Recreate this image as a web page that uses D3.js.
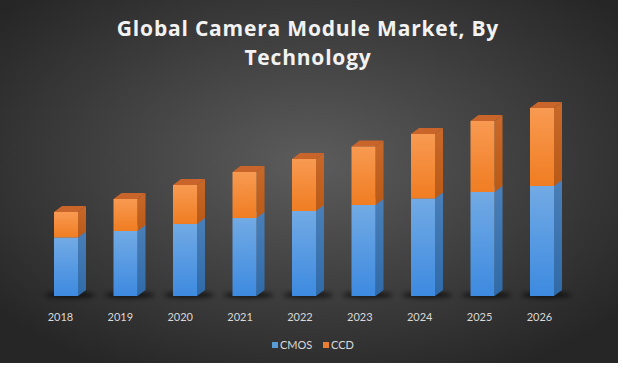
<!DOCTYPE html>
<html lang="en">
<head>
<meta charset="UTF-8">
<title>Global Camera Module Market, By Technology</title>
<script src="https://cdnjs.cloudflare.com/ajax/libs/d3/7.8.5/d3.min.js"></script>
<style>
    html, body { margin: 0; padding: 0; background: #fff; }
    svg { display: block; }
</style>
</head>
<body>
<svg id="chart" width="623" height="373"></svg>
<script>
    // data (arbitrary units, no value axis shown)
    const years = ["2018", "2019", "2020", "2021", "2022", "2023", "2024", "2025", "2026"];
    const cmosValues = [58.5, 65, 72, 78, 85, 91, 97.5, 104, 110];
    const ccdValues = [25.5, 32, 39, 46, 52, 58.5, 64.5, 71, 78];
    const seriesNames = ["CMOS", "CCD"];

    const W = 618, H = 363;
    const depthX = 8, depthY = 6, barWidth = 24;

    const svg = d3.select("#chart");
    const defs = svg.append("defs");

    const bg = defs.append("radialGradient").attr("id", "bgGrad")
        .attr("cx", "50%").attr("cy", "45%").attr("r", "65%");
    bg.append("stop").attr("offset", "0%").attr("stop-color", "#5c5c5c");
    bg.append("stop").attr("offset", "100%").attr("stop-color", "#262626");

    function vGrad(id, top, bottom) {
        const g = defs.append("linearGradient").attr("id", id)
            .attr("x1", 0).attr("y1", 0).attr("x2", 0).attr("y2", 1);
        g.append("stop").attr("offset", "0%").attr("stop-color", top);
        g.append("stop").attr("offset", "100%").attr("stop-color", bottom);
    }
    vGrad("cmosFront", "#72aae4", "#3d8ae0");
    vGrad("cmosSide", "#4a7fb8", "#2f6aa8");
    vGrad("ccdFront", "#f89a52", "#f07d22");
    vGrad("ccdSide", "#c8682a", "#b95a17");

    defs.append("filter").attr("id", "blur")
        .attr("x", "-50%").attr("y", "-200%").attr("width", "200%").attr("height", "500%")
        .append("feGaussianBlur").attr("stdDeviation", 2.5);

    svg.append("rect").attr("width", W).attr("height", H).attr("fill", "url(#bgGrad)");

    // title
    const title = svg.append("text")
        .attr("text-anchor", "middle")
        .attr("fill", "#f2f2f2")
        .style("font-family", "'Open Sans', Lato, sans-serif")
        .style("font-weight", "bold")
        .style("font-size", "21px")
        .style("letter-spacing", "0.8px");
    title.append("tspan").attr("x", 308).attr("y", 36).text("Global Camera Module Market, By");
    title.append("tspan").attr("x", 308).attr("y", 65).text("Technology");

    const x = d3.scalePoint().domain(years).range([66, 542]);
    const xLabel = d3.scalePoint().domain(years).range([60, 539]);
    const y = d3.scaleLinear().domain([0, 200]).range([296, 96]);

    const stacked = d3.stack().keys(seriesNames)(
        years.map((yr, i) => ({ year: yr, CMOS: cmosValues[i], CCD: ccdValues[i] }))
    );

    // floor shadows
    svg.append("g").selectAll("ellipse")
        .data(years).join("ellipse")
        .attr("cx", d => x(d) + 4)
        .attr("cy", 295)
        .attr("rx", 25)
        .attr("ry", 2.5)
        .attr("fill", "#000")
        .attr("opacity", 0.8)
        .attr("filter", "url(#blur)");

    const fills = {
        CMOS: { front: "url(#cmosFront)", side: "url(#cmosSide)", top: "#5f93cc" },
        CCD: { front: "url(#ccdFront)", side: "url(#ccdSide)", top: "#c9652a" }
    };

    stacked.forEach(layer => {
        const key = layer.key;
        const g = svg.append("g").attr("class", "series-" + key);
        layer.forEach((d, i) => {
            const x0 = x(years[i]) - barWidth / 2;
            const x1 = x0 + barWidth;
            const yTop = y(d[1]);
            const yBot = y(d[0]);
            // side face
            g.append("path")
                .attr("d", `M${x1},${yTop}L${x1 + depthX},${yTop - depthY}L${x1 + depthX},${yBot - depthY}L${x1},${yBot}Z`)
                .attr("fill", fills[key].side);
            // top face
            g.append("path")
                .attr("d", `M${x0},${yTop}L${x0 + depthX},${yTop - depthY}L${x1 + depthX},${yTop - depthY}L${x1},${yTop}Z`)
                .attr("fill", fills[key].top);
            // front face
            g.append("rect")
                .attr("x", x0).attr("y", yTop)
                .attr("width", barWidth).attr("height", yBot - yTop)
                .attr("fill", fills[key].front);
        });
    });

    // category axis
    const axis = svg.append("g")
        .attr("transform", "translate(0,305)")
        .call(d3.axisBottom(xLabel).tickSize(0).tickPadding(8));
    axis.select(".domain").remove();
    axis.selectAll("text")
        .attr("fill", "#d9d9d9")
        .style("font-family", "Lato, 'Open Sans', sans-serif")
        .style("font-size", "11px");

    // legend
    const legendColors = { CMOS: "#5b9bd5", CCD: "#ed7d31" };
    const legendX = d3.scaleOrdinal().domain(seriesNames).range([272, 323]);
    const legend = svg.append("g").selectAll("g")
        .data(seriesNames).join("g")
        .attr("transform", d => `translate(${legendX(d)},342)`);
    legend.append("rect").attr("width", 6).attr("height", 6).attr("fill", d => legendColors[d]);
    legend.append("text")
        .attr("x", 8).attr("y", 7)
        .attr("fill", "#d9d9d9")
        .style("font-family", "Lato, 'Open Sans', sans-serif")
        .style("font-size", "11px")
        .text(d => d);
</script>
</body>
</html>
